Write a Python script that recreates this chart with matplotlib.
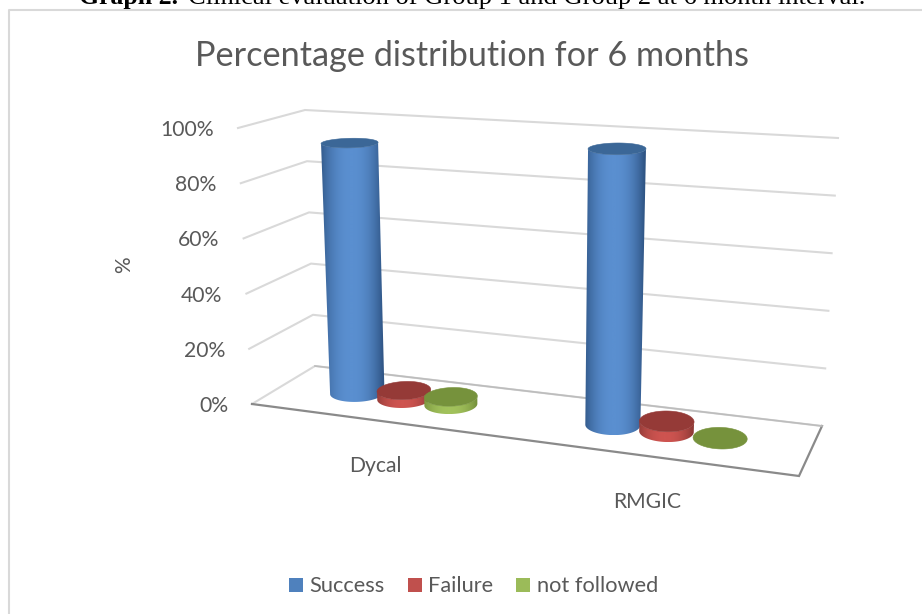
import numpy as np
import matplotlib
matplotlib.use("Agg")
import matplotlib.pyplot as plt
from matplotlib.patches import Patch, Polygon
from matplotlib.colors import LinearSegmentedColormap

categories = ["Dycal", "RMGIC"]
series_names = ["Success", "Failure", "not followed"]
success = [92.6, 96.7]
failure = [3, 3.5]
not_followed = [2.8, 0]
y_ticks = [0, 20, 40, 60, 80, 100]
y_tick_labels = ["0%", "20%", "40%", "60%", "80%", "100%"]

title = "Percentage distribution for 6 months"
FONT = "Lato"
TXT = "#595959"
GRID = "#D9D9D9"

# scene frame in pixels: (u: left-right, v: front-back, w: bottom-top)
C = {
    (0, 0, 0): (252, 404), (1, 0, 0): (799, 476),
    (0, 1, 0): (315, 366), (1, 1, 0): (822, 426),
    (0, 0, 1): (238, 128), (1, 0, 1): (811, 168),
    (0, 1, 1): (305, 110), (1, 1, 1): (838, 138),
}


def proj(u, v, val):
    """Trilinear projection of (u, v, value%) to pixels."""
    w = np.asarray(val, float) / 100.0
    u = np.asarray(u, float)
    v = np.asarray(v, float)
    x = 0
    y = 0
    for (a, b, c), (px, py) in C.items():
        k = (u if a else 1 - u) * (v if b else 1 - v) * (w if c else 1 - w)
        x = x + k * px
        y = y + k * py
    return x, y


fig = plt.figure(figsize=(9.22, 6.14), dpi=100)
ax = fig.add_axes([0, 0, 1, 1])
ax.axis("off")

# chart frame (left and top edges only are in view)
ax.plot([9, 9, 922], [614, 9.5, 9.5], color="#D9D9D9", lw=1.5, zorder=1)

# caption cut off by the image edge
ax.text(79, 4, "Graph 2.", family="Liberation Serif", weight="bold", fontsize=18.5,
        color="black", va="baseline", ha="left", clip_on=False)
ax.text(188, 4, "Clinical evaluation of Group 1 and Group 2 at 6 month interval.",
        family="Liberation Serif", fontsize=19.05, color="black", va="baseline", ha="left", clip_on=False)

# walls
for val, lab in zip(y_ticks, y_tick_labels):
    xs, ys = proj([0, 0, 1], [0, 1, 1], [val, val, val])
    ax.plot(xs, ys, color=GRID, lw=1.5, zorder=2, solid_joinstyle="round")
    fx, fy = proj(0, 0, val)
    ax.text(fx - 24, fy + 2, lab, family=FONT, fontsize=15.2, color=TXT, ha="right", va="center")

# floor front edges
xs, ys = proj([0, 1, 1], [0, 0, 1], [0, 0, 0])
ax.plot(xs, ys, color="#8A8A8A", lw=1.6, zorder=3, solid_joinstyle="miter")
xs, ys = proj([1, 0], [1, 1], [0, 0])
ax.plot(xs, ys, color="#BDBDBD", lw=1.2, zorder=3)

# cylinders
V_MID = 0.53
RV = 0.215
RU = [0.046, 0.05]
GROUP_U = [0.226, 0.725]
STEP_U = [0.089, 0.102]
top_cols = ["#3B6797", "#953A37", "#76923C"]
dark_cols = ["#2F5585", "#8F3A37", "#76923C"]
light_cols = ["#5A8FD0", "#CE5450", "#A2C25C"]
values = [success, failure, not_followed]


def cylinder(uc, ru, val, j, z):
    th = np.linspace(0, 2 * np.pi, 241)
    tx, ty = proj(uc + ru * np.cos(th), V_MID + RV * np.sin(th), np.full_like(th, val))
    if val > 0:
        bx, by = proj(uc + ru * np.cos(th), V_MID + RV * np.sin(th), np.zeros_like(th))
        # outline = front arc of the base joined with back arc of the top
        a0 = th[np.argmax(bx)]
        arc = np.linspace(np.pi + a0, 2 * np.pi + a0, 121)
        ax_b, ay_b = proj(uc + ru * np.cos(arc), V_MID + RV * np.sin(arc), np.zeros_like(arc))
        ax_t, ay_t = proj(uc + ru * np.cos(arc), V_MID + RV * np.sin(arc), np.full_like(arc, val))
        outline = np.r_[np.c_[ax_b, ay_b], np.c_[ax_t, ay_t][::-1]]
        body = Polygon(outline, closed=True, fc="none", ec="none", zorder=z)
        ax.add_patch(body)
        s = np.linspace(-1, 1, 256)
        t = np.clip(1 - np.abs(s + 0.05) ** 2.2, 0, 1)
        cmap = LinearSegmentedColormap.from_list("c", [dark_cols[j], light_cols[j]])
        x0, x1 = outline[:, 0].min(), outline[:, 0].max()
        y0, y1 = outline[:, 1].min(), outline[:, 1].max()
        im = ax.imshow(t[None, :], cmap=cmap, vmin=0, vmax=1, extent=(x0, x1, y1, y0),
                       aspect="auto", zorder=z, interpolation="bilinear")
        im.set_clip_path(body)
    ax.add_patch(Polygon(np.c_[tx, ty], closed=True, fc=top_cols[j], ec=top_cols[j], lw=0.4, zorder=z + 0.1))


for c in range(len(categories)):
    for j in range(len(series_names)):
        cylinder(GROUP_U[c] + (j - 1) * STEP_U[c], RU[c], values[j][c], j, 5 + c * 3 + j)

# category labels
ax.text(375, 466, categories[0], family=FONT, fontsize=15.2, color=TXT, ha="center", va="center")
ax.text(647, 502, categories[1], family=FONT, fontsize=15.2, color=TXT, ha="center", va="center")

# axis title, chart title
ax.text(124, 265, "%", family=FONT, fontsize=15, color=TXT, rotation=90, ha="center", va="center")
ax.text(472, 56, title, family=FONT, fontsize=24.7, color=TXT, ha="center", va="center")

# legend
handles = [Patch(fc=c, ec="none") for c in ["#4F81BD", "#C0504D", "#9BBB59"]]
ax.legend(handles, series_names, loc="center", bbox_to_anchor=(473.5 / 922, 1 - 586.5 / 614), ncols=3,
          frameon=False, prop={"family": FONT, "size": 15.7}, labelcolor=TXT,
          handlelength=0.64, handleheight=0.64, handletextpad=0.3, columnspacing=1.05)

ax.set_xlim(0, 922)
ax.set_ylim(614, 0)

fig.savefig("out.png", dpi=100)
